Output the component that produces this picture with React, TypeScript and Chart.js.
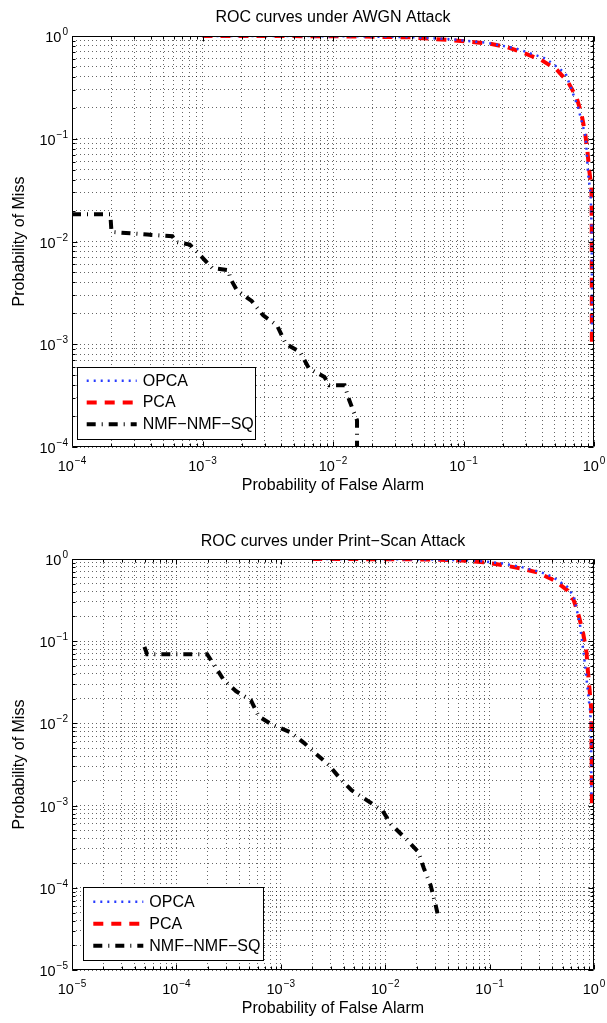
import React, { useEffect, useRef } from 'react';
import { Chart, registerables } from 'chart.js';

Chart.register(...registerables);

const FONT = "'Liberation Sans', Arial, Helvetica, sans-serif";

// ---------- Top chart: AWGN attack ----------
const awgnTitle = 'ROC curves under AWGN Attack';
const awgnXMajor = [1e-4, 1e-3, 1e-2, 1e-1, 1];
const awgnXExponents = ['−4', '−3', '−2', '−1', '0'];
const awgnYMajor = [1e-4, 1e-3, 1e-2, 1e-1, 1];
const awgnYExponents = ['−4', '−3', '−2', '−1', '0'];

const awgnOpcaPfa = [1e-3, 5e-3, 0.015, 0.04, 0.08, 0.15, 0.25, 0.427, 0.607, 0.753, 0.864, 0.9, 0.944, 0.96, 0.965, 0.966];
const awgnOpcaPm = [1.0, 0.999, 0.993, 0.975, 0.93, 0.86, 0.76, 0.603, 0.43, 0.204, 0.104, 0.046, 0.029, 0.012, 0.003, 0.0013];

const awgnPcaPfa = [1e-3, 5e-3, 0.015, 0.039, 0.078, 0.11, 0.157, 0.214, 0.29, 0.391, 0.518, 0.632, 0.736, 0.8, 0.853, 0.89, 0.916, 0.955, 0.96, 0.962, 0.963];
const awgnPcaPm = [1.0, 0.998, 0.99, 0.97, 0.914, 0.88, 0.844, 0.782, 0.683, 0.589, 0.471, 0.357, 0.251, 0.176, 0.116, 0.077, 0.051, 0.034, 0.02, 0.005, 0.001];

const awgnNmfPfa = [1e-4, 1.967e-4, 2.007e-4, 3.77e-4, 5.87e-4, 6.28e-4, 7.98e-4, 9.79e-4, 1.186e-3, 1.58e-3, 1.636e-3, 1.837e-3, 2.38e-3, 2.92e-3, 3.72e-3, 4.35e-3, 5.6e-3, 6.55e-3, 8.6e-3, 9.34e-3, 1.227e-2, 1.333e-2, 1.486e-2, 1.528e-2, 1.528e-2];
const awgnNmfPm = [0.0184, 0.0184, 0.0124, 0.01167, 0.01124, 0.00989, 0.00933, 0.00718, 0.00552, 0.00525, 0.00435, 0.00335, 0.00264, 0.00191, 0.00153, 0.00101, 0.00084, 0.00058, 0.00048, 0.000398, 0.000398, 0.000285, 0.000199, 0.000182, 0.0001];

// ---------- Bottom chart: Print-Scan attack ----------
const psTitle = 'ROC curves under Print−Scan Attack';
const psXMajor = [1e-5, 1e-4, 1e-3, 1e-2, 1e-1, 1];
const psXExponents = ['−5', '−4', '−3', '−2', '−1', '0'];
const psYMajor = [1e-5, 1e-4, 1e-3, 1e-2, 1e-1, 1];
const psYExponents = ['−5', '−4', '−3', '−2', '−1', '0'];

const psOpcaPfa = [2e-3, 0.01, 0.03, 0.07, 0.13, 0.2, 0.3, 0.398, 0.553, 0.641, 0.731, 0.811, 0.891, 0.925, 0.94, 0.945];
const psOpcaPm = [1.0, 0.997, 0.985, 0.96, 0.89, 0.8, 0.7, 0.61, 0.46, 0.35, 0.165, 0.059, 0.0195, 0.0134, 0.005, 0.0012];

const psPcaPfa = [2e-3, 0.01, 0.03, 0.06, 0.088, 0.132, 0.198, 0.289, 0.419, 0.561, 0.641, 0.715, 0.789, 0.848, 0.873, 0.906, 0.94, 0.943, 0.95, 0.955];
const psPcaPm = [1.0, 0.995, 0.985, 0.955, 0.91, 0.845, 0.77, 0.684, 0.546, 0.413, 0.312, 0.203, 0.123, 0.0728, 0.044, 0.026, 0.0153, 0.0106, 0.004, 0.001];

const psNmfPfa = [4.94e-5, 5.24e-5, 1.97e-4, 2.34e-4, 2.85e-4, 3.74e-4, 5.18e-4, 6.14e-4, 8.42e-4, 1.216e-3, 1.667e-3, 2.25e-3, 2.9e-3, 3.69e-3, 4.76e-3, 6.7e-3, 9.44e-3, 1.138e-2, 1.6e-2, 2.07e-2, 2.35e-2, 2.72e-2, 3.04e-2, 3.17e-2];
const psNmfPm = [0.0852, 0.0694, 0.0694, 0.0496, 0.0335, 0.0246, 0.0191, 0.0122, 0.0095, 0.00789, 0.0058, 0.0041, 0.0031, 0.00214, 0.00154, 0.00116, 0.000864, 0.000594, 0.000387, 0.000274, 0.000172, 0.000108, 6.16e-5, 4.88e-5];

const seriesNames = ['OPCA', 'PCA', 'NMF−NMF−SQ'];
const xAxisTitle = 'Probability of False Alarm';
const yAxisTitle = 'Probability of Miss';
const tickBase = '10';

// ---------- helpers ----------
function decadeTicks(majors: number[]) {
  const out: number[] = [];
  for (let i = 0; i < majors.length - 1; i++) {
    for (let m = 1; m <= 9; m++) out.push(Number((m * majors[i]).toPrecision(6)));
  }
  out.push(majors[majors.length - 1]);
  return out;
}

function majorIndex(majors: number[], v: number) {
  return majors.findIndex((m) => Math.abs(Math.log10(m) - Math.log10(v)) < 1e-6);
}

function zip(xs: number[], ys: number[]) {
  return xs.map((x, i) => ({ x, y: ys[i] }));
}

const GRID = 'rgba(0,0,0,0.6)';
const BASE_FONT = `14.5px ${FONT}`;
const EXP_FONT = `10px ${FONT}`;
const EXP_RAISE = 7;

const framePlugin = {
  id: 'frame',
  afterDatasetsDraw(chart: any, _args: any, opts: any) {
    const { ctx, chartArea } = chart;
    const xs = chart.scales.x;
    const ys = chart.scales.y;
    const L = Math.round(chartArea.left) + 0.5;
    const R = Math.round(chartArea.right) - 0.5;
    const T = Math.round(chartArea.top) + 0.5;
    const B = Math.round(chartArea.bottom) - 0.5;
    ctx.save();
    ctx.setLineDash([]);
    ctx.strokeStyle = '#000';
    ctx.lineWidth = 1;
    ctx.beginPath();
    ctx.rect(L, T, R - L, B - T);
    ctx.stroke();
    ctx.beginPath();
    for (const t of xs.ticks) {
      const p = Math.round(xs.getPixelForValue(t.value)) + 0.5;
      const len = majorIndex(opts.xMajor, t.value) >= 0 ? 5 : 3;
      ctx.moveTo(p, B);
      ctx.lineTo(p, B - len);
      ctx.moveTo(p, T);
      ctx.lineTo(p, T + len);
    }
    for (const t of ys.ticks) {
      const p = Math.round(ys.getPixelForValue(t.value)) + 0.5;
      const len = majorIndex(opts.yMajor, t.value) >= 0 ? 5 : 3;
      ctx.moveTo(L, p);
      ctx.lineTo(L + len, p);
      ctx.moveTo(R, p);
      ctx.lineTo(R - len, p);
    }
    ctx.stroke();
    ctx.restore();
  },
};

// Tick labels of the form 10^n, drawn at the library's own tick pixels
const powerLabelsPlugin = {
  id: 'powerLabels',
  afterDraw(chart: any, _args: any, opts: any) {
    const { ctx, chartArea } = chart;
    const xs = chart.scales.x;
    const ys = chart.scales.y;
    ctx.save();
    ctx.fillStyle = '#000';
    ctx.textBaseline = 'alphabetic';
    ctx.textAlign = 'left';
    for (const t of xs.ticks) {
      const i = majorIndex(opts.xMajor, t.value);
      if (i < 0) continue;
      const p = xs.getPixelForValue(t.value);
      ctx.font = BASE_FONT;
      const wb = ctx.measureText(tickBase).width;
      ctx.font = EXP_FONT;
      const we = ctx.measureText(opts.xExp[i]).width;
      const x0 = p - (wb + 1 + we) / 2;
      const base = chartArea.bottom + 24;
      ctx.font = BASE_FONT;
      ctx.fillText(tickBase, x0, base);
      ctx.font = EXP_FONT;
      ctx.fillText(opts.xExp[i], x0 + wb + 1, base - EXP_RAISE);
    }
    for (const t of ys.ticks) {
      const i = majorIndex(opts.yMajor, t.value);
      if (i < 0) continue;
      const p = ys.getPixelForValue(t.value);
      ctx.font = BASE_FONT;
      const wb = ctx.measureText(tickBase).width;
      ctx.font = EXP_FONT;
      const we = ctx.measureText(opts.yExp[i]).width;
      const right = chartArea.left - 4;
      const base = p + 6;
      ctx.font = BASE_FONT;
      ctx.fillText(tickBase, right - we - 1 - wb, base);
      ctx.font = EXP_FONT;
      ctx.fillText(opts.yExp[i], right - we, base - EXP_RAISE);
    }
    ctx.restore();
  },
};

const boxLegendPlugin = {
  id: 'boxLegend',
  afterDraw(chart: any, _args: any, opts: any) {
    const { ctx } = chart;
    const { x, y, w, h, row0, gap } = opts;
    ctx.save();
    ctx.setLineDash([]);
    ctx.fillStyle = '#fff';
    ctx.fillRect(x, y, w, h);
    ctx.strokeStyle = '#000';
    ctx.lineWidth = 1;
    ctx.strokeRect(Math.round(x) + 0.5, Math.round(y) + 0.5, Math.round(w), Math.round(h));
    chart.data.datasets.forEach((ds: any, i: number) => {
      const cy = y + row0 + i * gap;
      ctx.save();
      ctx.beginPath();
      ctx.setLineDash(ds.borderDash || []);
      ctx.lineWidth = ds.borderWidth;
      ctx.strokeStyle = ds.borderColor;
      ctx.lineCap = 'butt';
      ctx.moveTo(x + 10, cy);
      ctx.lineTo(x + 60, cy);
      ctx.stroke();
      ctx.restore();
      ctx.fillStyle = '#000';
      ctx.font = `16px ${FONT}`;
      ctx.textBaseline = 'middle';
      ctx.textAlign = 'left';
      ctx.fillText(ds.label, x + 66, cy + 0.5);
    });
    ctx.restore();
  },
};

function makeConfig(p: any) {
  const xTicks = decadeTicks(p.xMajor);
  const yTicks = decadeTicks(p.yMajor);
  const lineBase = { pointRadius: 0, pointHoverRadius: 0, fill: false, tension: 0, borderCapStyle: 'butt', borderJoinStyle: 'miter' };
  return {
    type: 'line',
    data: {
      datasets: [
        { ...lineBase, label: seriesNames[0], data: zip(p.opca[0], p.opca[1]), borderColor: 'rgb(40,60,255)', borderWidth: 2.5, borderDash: [2, 5] },
        { ...lineBase, label: seriesNames[1], data: zip(p.pca[0], p.pca[1]), borderColor: 'rgb(255,0,0)', borderWidth: 4, borderDash: [10, 8] },
        { ...lineBase, label: seriesNames[2], data: zip(p.nmf[0], p.nmf[1]), borderColor: '#000', borderWidth: 4, borderDash: [9, 6, 1, 6] },
      ],
    },
    options: {
      responsive: false,
      animation: false,
      events: [],
      layout: { padding: { left: 0, right: 13, top: 0, bottom: 3 } },
      plugins: {
        legend: { display: false },
        tooltip: { enabled: false },
        title: {
          display: true,
          fullSize: false,
          text: p.title,
          color: '#000',
          font: { family: FONT, size: 16, weight: 'normal' },
          padding: p.titlePad,
        },
        frame: { xMajor: p.xMajor, yMajor: p.yMajor },
        powerLabels: { xMajor: p.xMajor, yMajor: p.yMajor, xExp: p.xExp, yExp: p.yExp },
        boxLegend: p.legend,
      },
      scales: {
        x: {
          type: 'logarithmic',
          min: p.xMajor[0],
          max: p.xMajor[p.xMajor.length - 1],
          afterBuildTicks: (s: any) => { s.ticks = xTicks.map((v) => ({ value: v })); },
          afterFit: (s: any) => { s.height = 50; },
          grid: { color: GRID, lineWidth: 1, drawTicks: false },
          border: { display: false, dash: [1, 3] },
          ticks: { display: false, autoSkip: false, maxRotation: 0, minRotation: 0 },
          title: {
            display: true, text: xAxisTitle, color: '#000',
            font: { family: FONT, size: 16 }, padding: { top: 0, bottom: 2 },
          },
        },
        y: {
          type: 'logarithmic',
          min: p.yMajor[0],
          max: p.yMajor[p.yMajor.length - 1],
          afterBuildTicks: (s: any) => { s.ticks = yTicks.map((v) => ({ value: v })); },
          afterFit: (s: any) => { s.width = 72; },
          grid: { color: GRID, lineWidth: 1, drawTicks: false },
          border: { display: false, dash: [1, 3] },
          ticks: { display: false, autoSkip: false },
          title: {
            display: true, text: yAxisTitle, color: '#000',
            font: { family: FONT, size: 16 }, padding: { top: 10, bottom: 0 },
          },
        },
      },
    },
    plugins: [framePlugin, powerLabelsPlugin, boxLegendPlugin],
  };
}

function RocChart(props: { cfg: any; width: number; height: number; top: number }) {
  const ref = useRef<HTMLCanvasElement | null>(null);
  useEffect(() => {
    if (!ref.current) return;
    const chart = new Chart(ref.current, props.cfg);
    return () => chart.destroy();
  }, []);
  return (
    <canvas
      ref={ref}
      width={props.width}
      height={props.height}
      style={{ position: 'absolute', left: 0, top: props.top, width: props.width, height: props.height, display: 'block' }}
    />
  );
}

export default function App() {
  const topCfg = makeConfig({
    title: awgnTitle,
    titlePad: { top: 8, bottom: 8.8 },
    xMajor: awgnXMajor, xExp: awgnXExponents,
    yMajor: awgnYMajor, yExp: awgnYExponents,
    opca: [awgnOpcaPfa, awgnOpcaPm],
    pca: [awgnPcaPfa, awgnPcaPm],
    nmf: [awgnNmfPfa, awgnNmfPm],
    legend: { x: 76.7, y: 367.3, w: 177.6, h: 71.7, row0: 13.4, gap: 21.8 },
  });
  const bottomCfg = makeConfig({
    title: psTitle,
    titlePad: { top: 32, bottom: 7.8 },
    xMajor: psXMajor, xExp: psXExponents,
    yMajor: psYMajor, yExp: psYExponents,
    opca: [psOpcaPfa, psOpcaPm],
    pca: [psPcaPfa, psPcaPm],
    nmf: [psNmfPfa, psNmfPm],
    legend: { x: 83.3, y: 386.7, w: 180, h: 73.3, row0: 15, gap: 22 },
  });
  return (
    <div style={{ position: 'absolute', left: 0, top: 0, width: 607, height: 1023, background: '#fff', overflow: 'hidden' }}>
      <RocChart cfg={topCfg} width={607} height={500} top={0} />
      <RocChart cfg={bottomCfg} width={607} height={523} top={500} />
    </div>
  );
}
